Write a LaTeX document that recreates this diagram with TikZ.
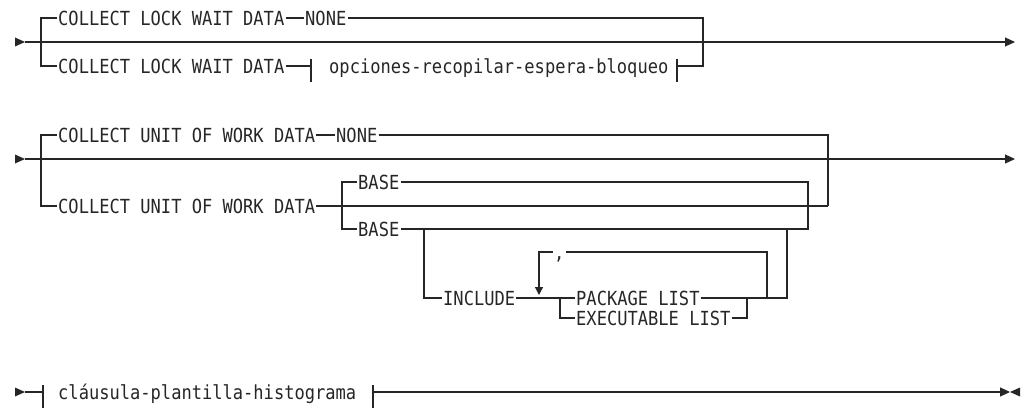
\documentclass[tikz,border=0pt]{standalone}
\usepackage{fontspec}
\newfontfamily\rrfont[FakeStretch=0.88]{DejaVu Sans Mono}
\usetikzlibrary{arrows.meta}
\tikzset{
  rr/.style={line width=1.2pt, draw=black!85},
  kw/.style={font=\fontsize{19.4}{20}\rrfont, inner xsep=1pt, inner ysep=0pt,
    text height=14.1pt, text depth=0pt, anchor=west, text=black!85},
  endarr/.style={-{Triangle[length=10pt,width=9pt]}},
  downarr/.style={-{Triangle[length=8pt,width=8pt]}},
}
\newcommand\rrstart[1]{\fill[black!85] (#1) ++(-10,-4.5) -- ++(10,4.5) -- ++(-10,4.5) -- cycle;}
\begin{document}
\begin{tikzpicture}[x=1pt,y=-1pt]
\useasboundingbox (0,0) rectangle (1029,412);

% ---------- Row 1 ----------
\coordinate (s1) at (25,42);
\coordinate (e1) at (1015,42);
\rrstart{s1}
\draw[rr,endarr] (s1) -- (e1);
\node[kw] (a1) at (57,18) {COLLECT LOCK WAIT DATA};
\node[kw] (a2) at (304,18) {NONE};
\node[kw] (a3) at (57,66) {COLLECT LOCK WAIT DATA};
\node[kw] (f1) at (328,66) {opciones-recopilar-espera-bloqueo};
\coordinate (f1l) at (311,66);
\coordinate (f1r) at (677,66);
\coordinate (j1) at (703,66);
\draw[rr] (a1.west) -| (41,66) -- (a3.west);
\draw[rr] (a1.east) -- (a2.west);
\draw[rr] (a2.east) -| (j1) -- (f1r);
\draw[rr] (a3.east) -- (f1l);
\draw[rr] (311,59) -- (311,82);
\draw[rr] (677,59) -- (677,82);

% ---------- Row 2 ----------
\coordinate (s2) at (25,159);
\coordinate (e2) at (1015,159);
\rrstart{s2}
\draw[rr,endarr] (s2) -- (e2);
\node[kw] (b1) at (57,135) {COLLECT UNIT OF WORK DATA};
\node[kw] (b2) at (335,135) {NONE};
\node[kw] (b3) at (57,206) {COLLECT UNIT OF WORK DATA};
\coordinate (j2) at (828,206);
\draw[rr] (b1.west) -| (41,206) -- (b3.west);
\draw[rr] (b1.east) -- (b2.west);
\draw[rr] (b2.east) -| (j2);
\draw[rr] (b3.east) -- (j2);
\node[kw] (c1) at (357,182) {BASE};
\node[kw] (c2) at (357,229) {BASE};
\coordinate (j3) at (808,229);
\draw[rr] (c1.west) -| (342,229) -- (c2.west);
\draw[rr] (c1.east) -| (j3) -- (c2.east);
\node[kw] (d1) at (442,298) {INCLUDE};
\node[kw] (p1) at (575,298) {PACKAGE LIST};
\node[kw] (p2) at (575,318) {EXECUTABLE LIST};
\node[kw] (cm) at (553,252) {,};
\coordinate (j4) at (787,229);
\draw[rr] (424,229) |- (d1.west);
\draw[rr] (d1.east) -- (p1.west);
\draw[rr] (560,298) |- (p2.west);
\draw[rr] (p2.east) -| (747,298);
\draw[rr] (p1.east) -| (j4);
\draw[rr] (767,298) |- (cm.east);
\draw[rr,downarr] (cm.west) -| (539,295);

% ---------- Row 3 ----------
\coordinate (s3) at (25,392);
\coordinate (e3) at (1010,392);
\rrstart{s3}
\node[kw] (h1) at (57,392) {cláusula-plantilla-histograma};
\coordinate (h1l) at (43,392);
\coordinate (h1r) at (373,392);
\draw[rr] (s3) -- (h1l);
\draw[rr] (43,385) -- (43,408);
\draw[rr] (373,385) -- (373,408);
\draw[rr,endarr] (h1r) -- (e3);
\fill[black!85] (e3) ++(10,-4.5) -- ++(-10,4.5) -- ++(10,4.5) -- cycle;
\end{tikzpicture}
\end{document}
